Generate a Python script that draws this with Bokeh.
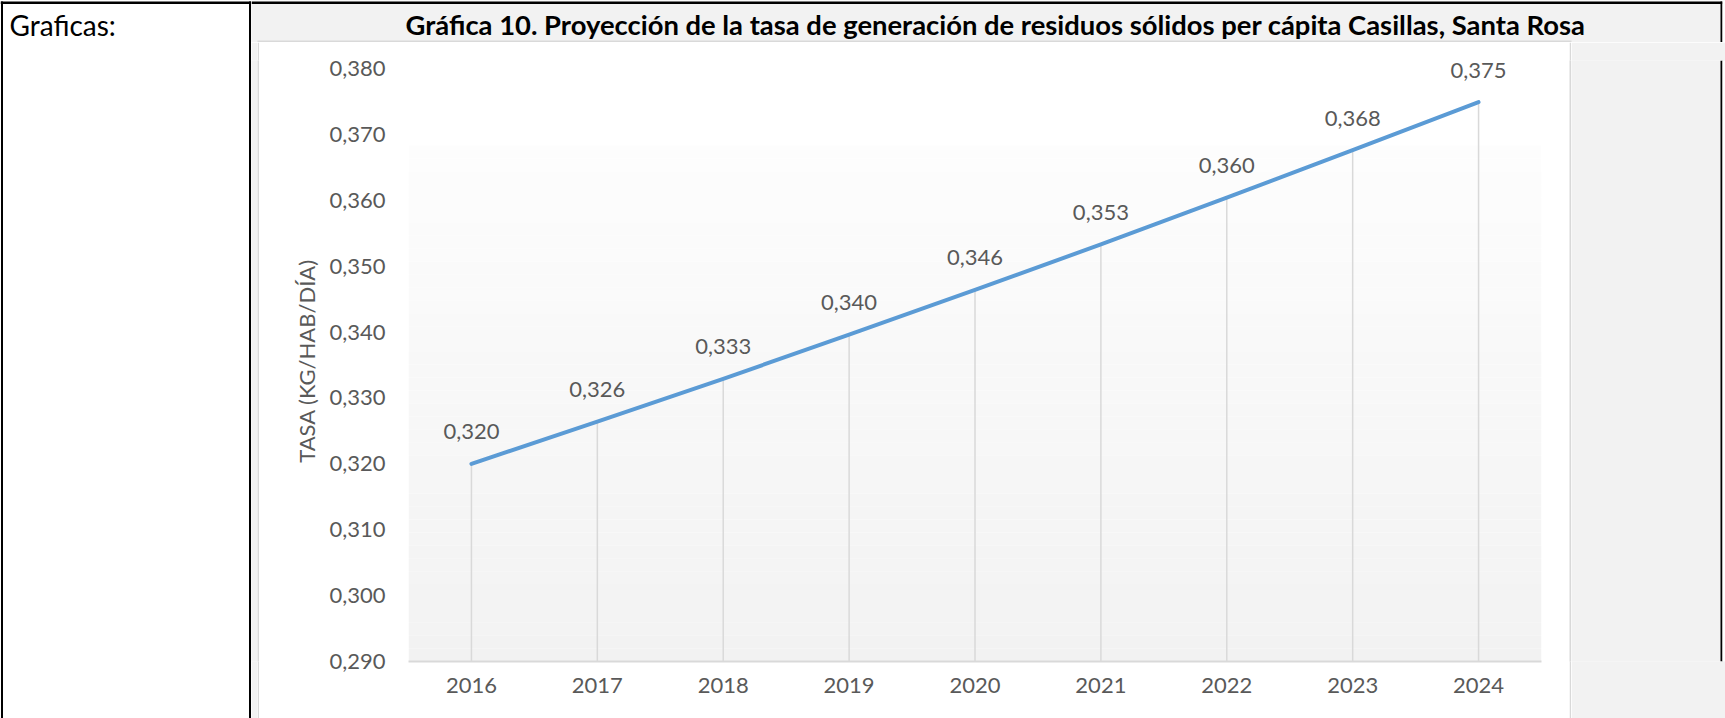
from bokeh.plotting import figure
from bokeh.layouts import row, column
from bokeh.models import FactorRange, Range1d, FixedTicker, BoxAnnotation, Label
from bokeh.core.properties import value
from bokeh.embed import file_html
from bokeh.resources import INLINE

# ---------------- data ----------------
years = ["2016", "2017", "2018", "2019", "2020", "2021", "2022", "2023", "2024"]
tasa = [0.3200, 0.3264, 0.3329, 0.3396, 0.3464, 0.3533, 0.3604, 0.3676, 0.3749]
data_labels = ["0,320", "0,326", "0,333", "0,340", "0,346", "0,353", "0,360", "0,368", "0,375"]
y_ticks = [0.29, 0.3, 0.31, 0.32, 0.33, 0.34, 0.35, 0.36, 0.37, 0.38]
y_tick_labels = ["0,290", "0,300", "0,310", "0,320", "0,330", "0,340", "0,350", "0,360", "0,370", "0,380"]
title_text = "Gráfica 10. Proyección de la tasa de generación de residuos sólidos per cápita Casillas, Santa Rosa"
cell_text = "Graficas:"
y_axis_title = "TASA (KG/HAB/DÍA)"
y_start, y_top_tick = 0.29, 0.38

FONT = "Lato"
TXT = "#595959"
GREY = "#F2F2F2"
LINE = "#D9D9D9"


def canvas_fig(w, h, bg):
    f = figure(width=w, height=h, x_range=Range1d(0, w), y_range=Range1d(0, h),
               x_axis_type=None, y_axis_type=None, toolbar_location=None,
               output_backend="svg", min_border_left=0, min_border_right=0,
               min_border_top=0, min_border_bottom=0)
    f.background_fill_color = bg
    f.border_fill_color = bg
    f.outline_line_color = None
    return f


def rect(f, x0, y0, x1, y1, color):
    # canvas-style coords (y downward) inside a figure whose frame is its whole canvas
    h = f.height
    f.add_layout(BoxAnnotation(left=x0, right=x1, top=h - y0, bottom=h - y1,
                               fill_color=color, fill_alpha=1.0, line_alpha=0.0))


# ---------- left cell (x 0..251) ----------
left = canvas_fig(251, 718, "#FFFFFF")
rect(left, 0, 1, 251, 3.5, "#000000")        # top border
rect(left, 0.5, 1, 2.5, 718, "#000000")      # left border
rect(left, 248.5, 1, 250.5, 718, "#000000")  # divider
left.add_layout(Label(x=9, y=718 - 24, text=cell_text, text_align="left",
                      text_baseline="middle", text_font=FONT, text_font_size="28px",
                      text_color="#000000"))

# ---------- title strip (x 251..1725, y 0..42) ----------
RW = 1725 - 251
TH = 42
title_fig = canvas_fig(RW, TH, GREY)
rect(title_fig, 0, 0, RW, 1, "#FFFFFF")
rect(title_fig, 0, 1, 1471, 3.5, "#000000")               # top border
rect(title_fig, 1469, 1, 1471, TH, "#000000")             # right border
rect(title_fig, 1471, 0, RW, TH, "#FFFFFF")
rect(title_fig, 257 - 251, 40, 1571 - 251, 42, LINE)      # chart box top edge
title_fig.add_layout(Label(x=995 - 251, y=TH - 24, text=title_text, text_align="center",
                           text_baseline="middle", text_font=FONT, text_font_size="27.4px",
                           text_font_style="bold", text_color="#000000"))

# ---------- chart row (y 42..718) ----------
CH = 718 - TH
grey_l = canvas_fig(6, CH, GREY)
edge_l = canvas_fig(2, CH, LINE)
edge_r = canvas_fig(2, CH, LINE)
grey_r = canvas_fig(154, CH, GREY)
rect(grey_r, 1720 - 1571, 0, 1722 - 1571, CH, "#000000")
rect(grey_r, 1722 - 1571, 0, 154, CH, "#FFFFFF")

CW = 1310
FL, FR, FT, FB = 149, 1282, 60 - TH, 661 - TH   # frame edges inside the chart figure
px_per_unit = 593 / (y_top_tick - y_start)
y_end = y_start + (FB - FT) / px_per_unit

p = figure(
    width=CW, height=CH,
    x_range=FactorRange(factors=years, range_padding=0),
    y_range=Range1d(y_start, y_end),
    output_backend="svg", toolbar_location=None,
    min_border_left=FL, min_border_right=CW - FR,
    min_border_top=FT, min_border_bottom=CH - FB,
)
p.border_fill_color = "#FFFFFF"
p.background_fill_color = "#FFFFFF"
p.outline_line_color = None
p.xgrid.grid_line_color = None
p.ygrid.grid_line_color = None

# plot-area gradient (light grey at bottom -> near white at top)
n = 40
g_top = 0.3683
c0 = (0xF2, 0xF2, 0xF2)
c1 = (0xFD, 0xFD, 0xFD)
for i in range(n):
    t = i / (n - 1)
    col = "#%02x%02x%02x" % tuple(int(round(a + (b - a) * t)) for a, b in zip(c0, c1))
    b0 = y_start + (g_top - y_start) * i / n
    b1 = y_start + (g_top - y_start) * (i + 1) / n
    p.add_layout(BoxAnnotation(bottom=b0, top=b1, fill_color=col, fill_alpha=1.0,
                               line_alpha=0.0, level="underlay"))

# drop lines
p.segment(x0=years, y0=[y_start] * len(years), x1=years, y1=tasa,
          line_color=LINE, line_width=1.5)
# series line
p.line(x=years, y=tasa, line_color="#5B9BD5", line_width=4, line_cap="round", line_join="round")
# data labels
p.text(x=years, y=tasa, text=data_labels, text_align="center", text_baseline="middle",
       y_offset=-32, text_font=value(FONT), text_font_size="22px", text_color=TXT)

# axes
xa = p.xaxis[0]
xa.axis_line_color = LINE
xa.axis_line_width = 2
xa.major_tick_line_color = None
xa.minor_tick_line_color = None
xa.major_tick_out = 0
xa.major_tick_in = 0
xa.major_label_text_font = FONT
xa.major_label_text_font_size = "22px"
xa.major_label_text_color = TXT
xa.major_label_standoff = 16

ya = p.yaxis[0]
ya.ticker = FixedTicker(ticks=y_ticks)
ya.major_label_overrides = {t: l for t, l in zip(y_ticks, y_tick_labels)}
ya.axis_line_color = None
ya.major_tick_line_color = None
ya.minor_tick_line_color = None
ya.major_tick_out = 0
ya.major_tick_in = 0
ya.major_label_text_font = FONT
ya.major_label_text_font_size = "22px"
ya.major_label_text_color = TXT
ya.major_label_standoff = 23
ya.axis_label = y_axis_title
ya.axis_label_text_font = FONT
ya.axis_label_text_font_size = "22px"
ya.axis_label_text_font_style = "normal"
ya.axis_label_text_color = TXT
ya.axis_label_standoff = 6

chart_row = row(grey_l, edge_l, p, edge_r, grey_r)
root = row(left, column(title_fig, chart_row))

open("out.html", "w").write(file_html(root, INLINE))
